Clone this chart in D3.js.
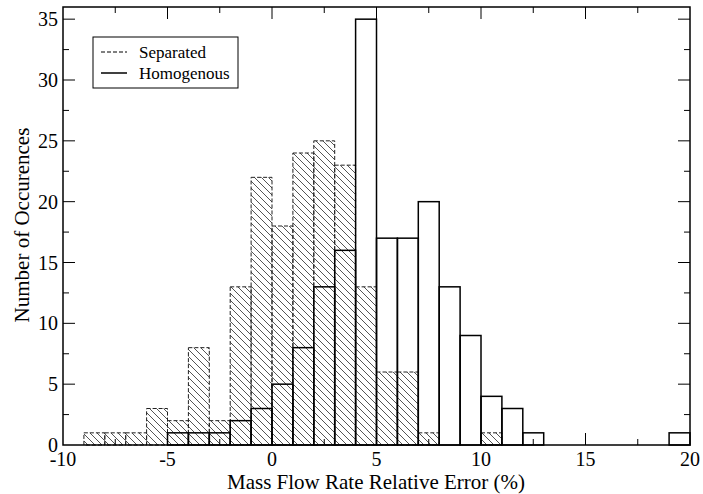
<!DOCTYPE html>
<html>
<head>
<meta charset="utf-8">
<script src="https://cdn.jsdelivr.net/npm/d3@7"></script>
<style>
  body { margin: 0; background: #fff; }
</style>
</head>
<body>
<svg id="chart" width="703" height="494" font-family="'Liberation Serif', 'DejaVu Serif', 'Times New Roman', serif"></svg>
<script>
// bin left edges, 1 unit wide
var binStarts = d3.range(-10, 20);
var separated = [0, 1, 1, 1, 3, 2, 8, 2, 13, 22, 18, 24, 25, 23, 13, 6, 6, 1, 0, 0, 1, 0, 0, 0, 0, 0, 0, 0, 0, 0];
var homogenous = [0, 0, 0, 0, 0, 1, 1, 1, 2, 3, 5, 8, 13, 16, 35, 17, 17, 20, 13, 9, 4, 3, 1, 0, 0, 0, 0, 0, 0, 1];
var xTicks = [-10, -5, 0, 5, 10, 15, 20];
var yTicks = [0, 5, 10, 15, 20, 25, 30, 35];
var legendLabels = ['Separated', 'Homogenous'];

var svg = d3.select('#chart');
// plot box (note: "top" is taken by window.top, so use pTop etc)
var pLeft = 63, pRight = 690, pTop = 7, pBottom = 445;

var x = d3.scaleLinear().domain([-10, 20]).range([pLeft, pRight]);
var y = d3.scaleLinear().domain([0, 36]).range([pBottom, pTop]);

// hatch pattern "\\\"
var defs = svg.append('defs');
var pat = defs.append('pattern')
    .attr('id', 'hatch')
    .attr('patternUnits', 'userSpaceOnUse')
    .attr('width', 7).attr('height', 7);
pat.append('path')
    .attr('d', 'M-1,-1 L8,8 M-1,6 L1,8 M6,-1 L8,1')
    .attr('stroke', '#555')
    .attr('stroke-width', 1);

function toBars(values) {
  return binStarts.map(function (b, i) { return {x0: b, x1: b + 1, v: values[i]}; })
    .filter(function (d) { return d.v > 0; });
}

// separated: hatched, dashed outline
svg.append('g').selectAll('rect')
    .data(toBars(separated))
    .enter().append('rect')
    .attr('x', function (d) { return x(d.x0); })
    .attr('y', function (d) { return y(d.v); })
    .attr('width', function (d) { return x(d.x1) - x(d.x0); })
    .attr('height', function (d) { return y(0) - y(d.v); })
    .attr('fill', 'url(#hatch)')
    .attr('stroke', '#222')
    .attr('stroke-width', 1)
    .attr('stroke-dasharray', '4,2');

// homogenous: outline only
svg.append('g').selectAll('rect')
    .data(toBars(homogenous))
    .enter().append('rect')
    .attr('x', function (d) { return x(d.x0); })
    .attr('y', function (d) { return y(d.v); })
    .attr('width', function (d) { return x(d.x1) - x(d.x0); })
    .attr('height', function (d) { return y(0) - y(d.v); })
    .attr('fill', 'none')
    .attr('stroke', '#000')
    .attr('stroke-width', 1.5);

// frame
svg.append('rect')
    .attr('x', pLeft).attr('y', pTop)
    .attr('width', pRight - pLeft).attr('height', pBottom - pTop)
    .attr('fill', 'none').attr('stroke', '#000').attr('stroke-width', 1.5);

// ticks on all four sides, pointing inward
var xMinor = d3.range(-7.5, 20, 5);
var yMinor = d3.range(2.5, 36, 5);
var tickG = svg.append('g').attr('stroke', '#000').attr('stroke-width', 1);
function vTicks(vals, len) {
  vals.forEach(function (v) {
    tickG.append('line').attr('x1', x(v)).attr('x2', x(v)).attr('y1', pBottom).attr('y2', pBottom - len);
    tickG.append('line').attr('x1', x(v)).attr('x2', x(v)).attr('y1', pTop).attr('y2', pTop + len);
  });
}
function hTicks(vals, len) {
  vals.forEach(function (v) {
    tickG.append('line').attr('y1', y(v)).attr('y2', y(v)).attr('x1', pLeft).attr('x2', pLeft + len);
    tickG.append('line').attr('y1', y(v)).attr('y2', y(v)).attr('x1', pRight).attr('x2', pRight - len);
  });
}
vTicks(xTicks.slice(1, -1), 12);
vTicks(xMinor, 6);
hTicks(yTicks.slice(1), 12);
hTicks(yMinor, 6);

// tick labels
svg.append('g').selectAll('text')
    .data(xTicks).enter().append('text')
    .attr('x', function (d) { return x(d); })
    .attr('y', pBottom + 21)
    .attr('text-anchor', 'middle')
    .attr('font-size', 20)
    .text(function (d) { return d; });

svg.append('g').selectAll('text')
    .data(yTicks).enter().append('text')
    .attr('x', pLeft - 5)
    .attr('y', function (d) { return y(d) + 7; })
    .attr('text-anchor', 'end')
    .attr('font-size', 20)
    .text(function (d) { return d; });

// axis titles
svg.append('text')
    .attr('x', 376)
    .attr('y', 489)
    .attr('text-anchor', 'middle')
    .attr('font-size', 21)
    .text('Mass Flow Rate Relative Error (%)');

svg.append('text')
    .attr('transform', 'translate(29,225) rotate(-90)')
    .attr('text-anchor', 'middle')
    .attr('font-size', 21)
    .text('Number of Occurences');

// legend
var lg = svg.append('g');
lg.append('rect')
    .attr('x', 93).attr('y', 37).attr('width', 145).attr('height', 51)
    .attr('fill', '#fff').attr('stroke', '#000').attr('stroke-width', 1);
lg.append('line').attr('x1', 101).attr('x2', 127).attr('y1', 52).attr('y2', 52)
    .attr('stroke', '#000').attr('stroke-width', 1).attr('stroke-dasharray', '4,2');
lg.append('line').attr('x1', 101).attr('x2', 127).attr('y1', 73).attr('y2', 73)
    .attr('stroke', '#000').attr('stroke-width', 1.5);
lg.selectAll('text.lab')
    .data(legendLabels).enter().append('text')
    .attr('x', 139)
    .attr('y', function (d, i) { return 58 + i * 21; })
    .attr('font-size', 17)
    .text(function (d) { return d; });
</script>
</body>
</html>
